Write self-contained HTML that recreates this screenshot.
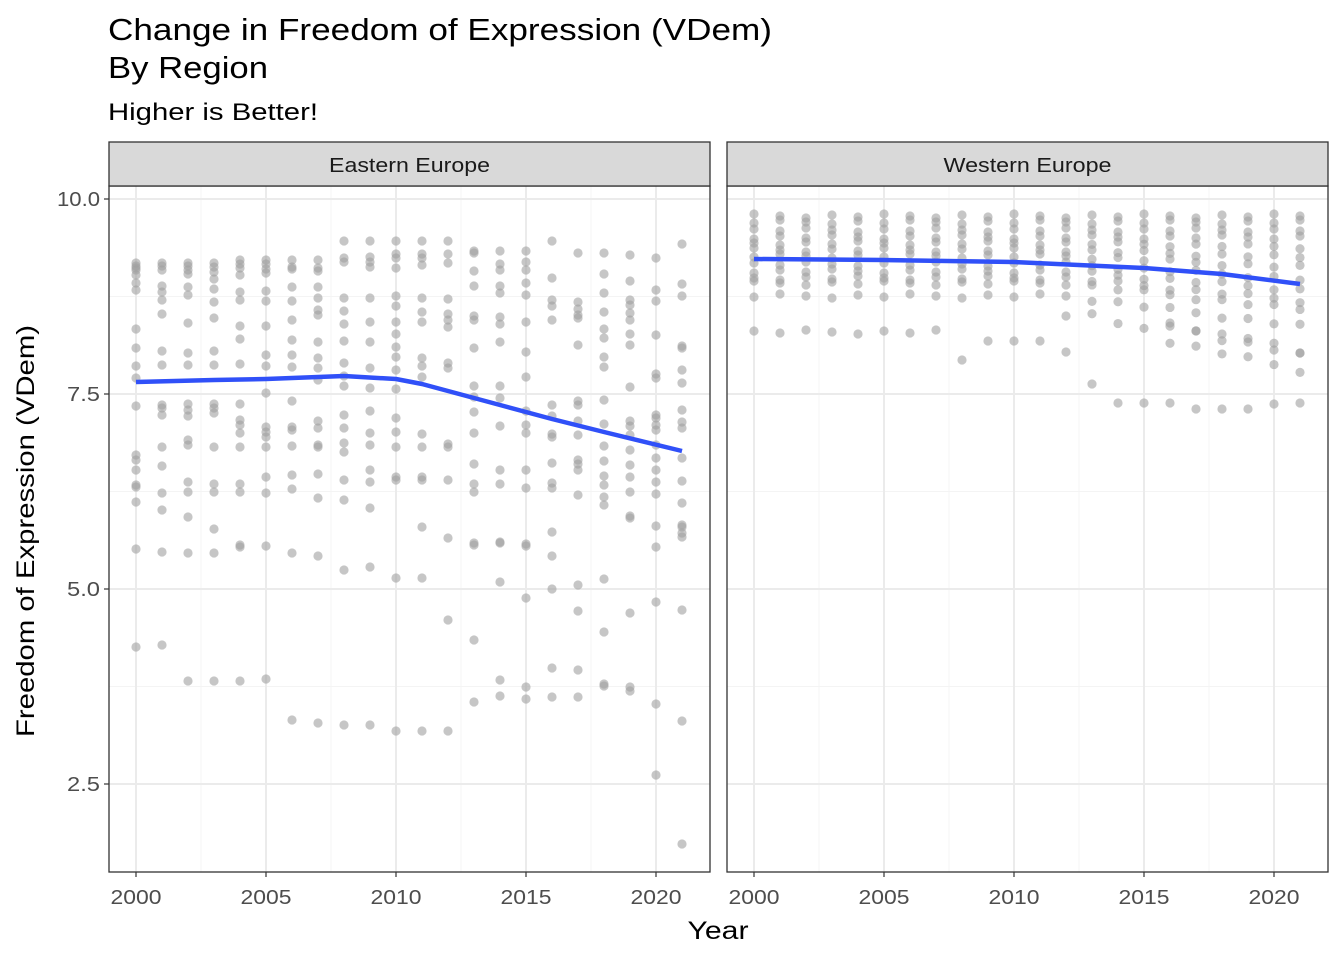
<!DOCTYPE html>
<html><head><meta charset="utf-8"><style>
html,body{margin:0;padding:0;background:#fff}
svg{display:block;font-family:"Liberation Sans",Arial,sans-serif}
</style></head><body>
<svg id="s" width="1344" height="960" viewBox="0 0 1344 960" xmlns="http://www.w3.org/2000/svg">
<rect width="1344" height="960" fill="#fff"/>
<text x="108" y="40" font-size="31" textLength="664" lengthAdjust="spacingAndGlyphs" fill="#000">Change in Freedom of Expression (VDem)</text>
<text x="108" y="78" font-size="31" textLength="160" lengthAdjust="spacingAndGlyphs" fill="#000">By Region</text>
<text x="108" y="120" font-size="24" textLength="210" lengthAdjust="spacingAndGlyphs" fill="#000">Higher is Better!</text>
<g id="g"></g>
<text x="718" y="939" font-size="25" text-anchor="middle" textLength="61" lengthAdjust="spacingAndGlyphs">Year</text>
<text transform="translate(34,531) rotate(-90)" font-size="25" text-anchor="middle" textLength="412" lengthAdjust="spacingAndGlyphs">Freedom of Expression (VDem)</text>
</svg>
<script>
var NS="http://www.w3.org/2000/svg",g=document.getElementById("g");
function el(t,a,txt){var e=document.createElementNS(NS,t);for(var k in a)e.setAttribute(k,a[k]);if(txt!=null)e.textContent=txt;g.appendChild(e);return e;}
var E={2000:[263,266,268,270,275,283,290,329,348,366,378,406,455,460,470,485,487,502,549,647],
2001:[263,266,270,286,292,300,314,351,365,405,408,415,447,466,493,510,552,645],
2002:[263,266,270,274,287,295,323,353,365,404,410,416,440,445,482,492,517,553,681],
2003:[263,267,272,279,289,302,318,351,365,404,408,413,447,484,492,529,553,681],
2004:[260,264,268,275,292,300,326,339,364,404,420,425,433,447,484,492,545,547,681],
2005:[260,264,269,273,291,301,326,355,366,393,427,432,437,447,477,493,546,679],
2006:[260,267,269,287,301,320,340,355,367,401,427,430,446,475,489,553,720],
2007:[260,268,271,287,298,310,315,342,358,368,380,421,428,445,447,474,498,556,723],
2008:[241,258,262,298,311,324,341,363,376,386,415,428,443,452,480,500,570,725],
2009:[241,257,262,267,298,322,342,368,388,411,433,445,470,482,508,567,725],
2010:[241,254,258,268,296,306,322,334,347,357,370,389,418,432,447,477,480,578,731],
2011:[241,254,258,265,298,312,322,358,366,377,434,447,477,480,527,578,731],
2012:[241,254,263,299,314,320,327,363,368,444,447,480,538,620,731],
2013:[251,253,271,286,316,320,348,386,397,412,433,464,484,492,543,545,640,702],
2014:[251,264,270,286,293,317,324,342,386,398,426,470,484,542,543,582,680,696],
2015:[251,262,270,283,295,322,352,377,411,425,433,470,488,544,546,598,687,699],
2016:[241,278,300,306,320,405,416,434,437,463,483,488,532,556,589,668,697],
2017:[253,302,309,315,318,345,401,405,421,435,460,464,470,495,585,611,670,697],
2018:[253,274,293,312,329,338,357,367,400,424,446,461,476,485,497,505,579,632,684,686],
2019:[255,281,300,305,313,320,334,345,387,421,426,435,450,465,477,492,516,518,613,687,691],
2020:[258,290,301,335,374,378,415,418,425,430,445,458,470,482,494,526,547,602,704,775],
2021:[244,284,296,346,348,370,383,410,422,428,458,481,503,525,527,533,537,610,721,844]};
var low={2008:360,2009:341,2010:341,2011:341,2012:352,2013:384,2014:403,2015:403,2016:403,2017:409,2018:409,2019:409,2020:404,2021:403};
function panel(x0,x2000,title,tl,pts,line){
 el("rect",{x:x0,y:186,width:601,height:686,fill:"#fff"});
 for(var v=1.25;v<=10;v+=2.5){var y=199+(10-v)*78;if(y>186&&y<872)el("line",{x1:x0,x2:x0+601,y1:y,y2:y,stroke:"#f4f4f4","stroke-width":1});}
 for(var yr=2002.5;yr<2022;yr+=5){var x=x2000+(yr-2000)*26;el("line",{x1:x,x2:x,y1:186,y2:872,stroke:"#f4f4f4","stroke-width":1});}
 for(var v=2.5;v<=10;v+=2.5){var y=199+(10-v)*78;el("line",{x1:x0,x2:x0+601,y1:y,y2:y,stroke:"#ebebeb","stroke-width":2});}
 for(var yr=2000;yr<=2020;yr+=5){var x=x2000+(yr-2000)*26;el("line",{x1:x,x2:x,y1:186,y2:872,stroke:"#ebebeb","stroke-width":2});
  el("line",{x1:x,x2:x,y1:872,y2:877,stroke:"#333","stroke-width":1.2});
  el("text",{x:x,y:904,"font-size":20,"text-anchor":"middle",fill:"#4d4d4d",textLength:51,lengthAdjust:"spacingAndGlyphs"},String(yr));}
 for(var yr in pts){var x=x2000+(yr-2000)*26;pts[yr].forEach(function(y){el("circle",{cx:x,cy:y,r:4.6,fill:"#a0a0a0","fill-opacity":0.6});});}
 var d="";line.forEach(function(p,i){d+=(i?"L":"M")+(x2000+(p[0]-2000)*26)+","+p[1];});
 el("path",{d:d,fill:"none",stroke:"#3050f8","stroke-width":4.5,"stroke-linejoin":"round"});
 el("rect",{x:x0,y:186,width:601,height:686,fill:"none",stroke:"#333","stroke-width":1.3});
 el("rect",{x:x0,y:142,width:601,height:44,fill:"#d9d9d9",stroke:"#333","stroke-width":1.3});
 el("text",{x:x0+300.5,y:172,"font-size":20,"text-anchor":"middle",fill:"#1a1a1a",textLength:tl,lengthAdjust:"spacingAndGlyphs"},title);
}
var W={};
for(var yr=2000;yr<=2021;yr++){var t=(yr-2000);var s=t>12?(t-12)*1.2:0;
 var base=[216,222,230,237,243,250,256,264,271,278,283,296];
 if(yr<=2007)base.push(332);
 if(yr>=2012)base.push(310+(yr%3)*4);
 if(yr>=2016)base.push(300+s*1.5,318+s);
 W[yr]=base.map(function(y,i){return y+(i>3?s*(i-3)*0.35:0)+((yr*7+i*3)%5)-2;});
 if(low[yr])W[yr].push(low[yr]);}
panel(109,136,"Eastern Europe",161,E,[[2000,382],[2003,380],[2005,379],[2008,376],[2010,379],[2011,384],[2012,391],[2014,405],[2016,419],[2018,432],[2021,451]]);
panel(727,754,"Western Europe",168,W,[[2000,259],[2005,260],[2010,262],[2015,268],[2018,274],[2021,284]]);
[[2.5,784,33],[5.0,589,33],[7.5,394,33],[10.0,199,43]].forEach(function(a){
 el("line",{x1:104,x2:109,y1:a[1],y2:a[1],stroke:"#333","stroke-width":1.2});
 el("text",{x:100,y:a[1]+7,"font-size":20,"text-anchor":"end",fill:"#4d4d4d",textLength:a[2],lengthAdjust:"spacingAndGlyphs"},a[0].toFixed(1));});
</script>
</body></html>
